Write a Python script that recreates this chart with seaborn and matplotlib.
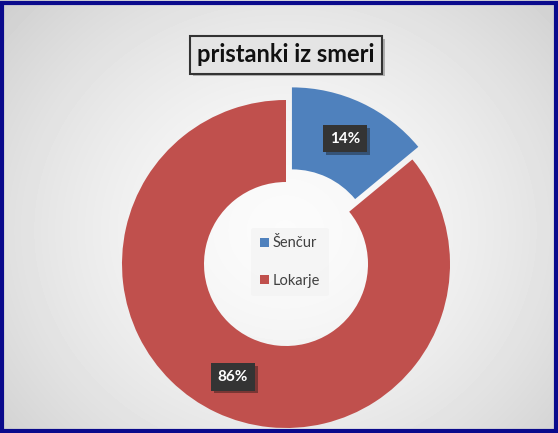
import numpy as np
import matplotlib
matplotlib.use('Agg')
import matplotlib.pyplot as plt
import matplotlib.patheffects as pe
from matplotlib.patches import Patch, Rectangle
import seaborn as sns

# data
labels = ['Šenčur', 'Lokarje']
shares = [14, 86]
colors = ['#4F81BD', '#C0504D']
title = 'pristanki iz smeri'

sns.set_theme(style='white')
plt.rcParams['font.family'] = ['Lato', 'DejaVu Sans']

fig = plt.figure(figsize=(5.58, 4.33), dpi=100)

# radial grey background
bg = fig.add_axes([0, 0, 1, 1], zorder=0)
yy, xx = np.mgrid[0:433, 0:558]
d = np.sqrt(((xx - 285) / 330.0) ** 2 + ((yy - 230) / 300.0) ** 2)
shade = 0.985 - 0.14 * np.clip(d, 0, 1.2) ** 1.6
bg.imshow(shade, cmap='gray', vmin=0, vmax=1, aspect='auto',
          extent=[0, 1, 0, 1], interpolation='bilinear')
bg.set_axis_off()

# donut, 164 px per data unit, centre at pixel (286, 264)
R = 164.0
cx, cy = 286, 264
ax = fig.add_axes([0, 0, 1, 1], zorder=1)
ax.patch.set_alpha(0)
wedges, _, autotexts = ax.pie(
    shares, colors=colors, startangle=90, counterclock=False,
    explode=[0.085, 0], radius=1, pctdistance=0.76,
    autopct=lambda p: f'{p:.0f}%',
    wedgeprops=dict(width=0.5, edgecolor='none'),
)
ax.set_xlim(-cx / R, (558 - cx) / R)
ax.set_ylim(-(433 - cy) / R, cy / R)
ax.set_aspect('auto')
ax.set_axis_off()

for t in autotexts:
    t.set_color('white')
    t.set_fontsize(11)
    t.set_fontweight('bold')
    t.set_bbox(dict(boxstyle='square,pad=0.45', facecolor='#343434',
                    edgecolor='none'))
    t.get_bbox_patch().set_path_effects(
        [pe.SimplePatchShadow(offset=(2, -2), alpha=0.4), pe.Normal()])

# legend in the hole
handles = [Patch(facecolor=c, edgecolor='none') for c in colors]
leg = ax.legend(handles, labels, loc='center',
                bbox_to_anchor=((290 / 558), 1 - 262 / 433),
                bbox_transform=fig.transFigure,
                frameon=True, fontsize=10.5, labelspacing=1.6,
                handlelength=0.6, handleheight=0.6, handletextpad=0.3,
                borderpad=0.6, labelcolor='#404040')
leg.get_frame().set_facecolor('#f3f3f3')
leg.get_frame().set_edgecolor('none')
leg.get_frame().set_alpha(0.7)

# title in a boxed label
tt = fig.text(286 / 558, 1 - 55 / 433, title, ha='center', va='center',
              fontsize=17, fontweight='bold', color='#111111',
              bbox=dict(boxstyle='square,pad=0.3', facecolor='#e4e4e4',
                        edgecolor='#333333', linewidth=1.5))
tt.get_bbox_patch().set_path_effects(
    [pe.SimplePatchShadow(offset=(2, -2), alpha=0.35), pe.Normal()])

# outer navy frame
fig.patches.append(Rectangle((0.004, 0.004), 0.992, 0.990,
                             transform=fig.transFigure, fill=False,
                             edgecolor='#0a0a8c', linewidth=3, zorder=5))

fig.savefig('out.png', dpi=100)
